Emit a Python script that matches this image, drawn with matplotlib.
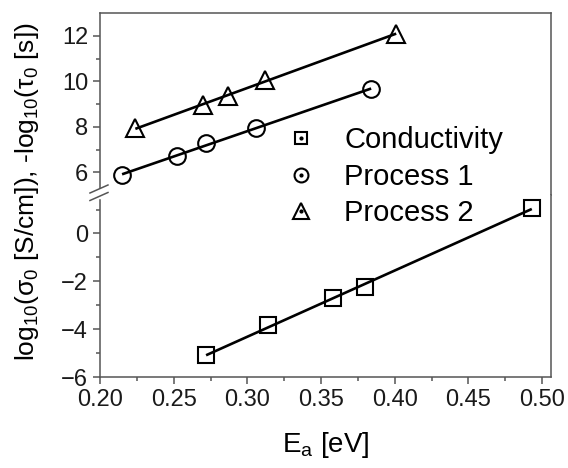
import numpy as np
import matplotlib
matplotlib.use("Agg")
import matplotlib.pyplot as plt
from matplotlib.lines import Line2D
from matplotlib.legend_handler import HandlerTuple

plt.rcParams['font.family'] = ['Liberation Sans', 'DejaVu Sans']
plt.rcParams['mathtext.fontset'] = 'custom'
plt.rcParams['mathtext.rm'] = 'Liberation Sans'
plt.rcParams['mathtext.it'] = 'Liberation Sans'

# activation energy vs. prefactor
cond_ea = [0.272, 0.314, 0.358, 0.380, 0.493]
cond_log = [-5.08, -3.83, -2.71, -2.25, 1.08]

proc1_ea = [0.215, 0.252, 0.272, 0.306, 0.384]
proc1_log = [5.87, 6.70, 7.30, 7.96, 9.65]

proc2_ea = [0.224, 0.270, 0.287, 0.312, 0.401]
proc2_log = [7.95, 8.96, 9.35, 10.05, 12.10]

spine_col = '#555555'
lw_fit = 1.9
mew = 1.5

fig = plt.figure(figsize=(5.68, 4.68), dpi=100)
gs = fig.add_gridspec(2, 1, height_ratios=[1, 1], hspace=0,
                      left=0.176, right=0.970, top=0.972, bottom=0.194)
ax_top = fig.add_subplot(gs[0])
ax_bot = fig.add_subplot(gs[1], sharex=ax_top)


def fit_line(ax, x, y):
    k, b = np.polyfit(x, y, 1)
    xs = np.array([min(x), max(x)])
    ax.plot(xs, k * xs + b, color='black', lw=lw_fit, zorder=2,
            solid_capstyle='butt')


for ax in (ax_top, ax_bot):
    for s in ax.spines.values():
        s.set_color(spine_col)
        s.set_linewidth(1.1)
    ax.tick_params(which='both', direction='out', color=spine_col,
                   labelsize=17, labelcolor='#1a1a1a', width=1.1,
                   right=False, top=False)
    ax.tick_params(which='major', length=5)
    ax.tick_params(which='minor', length=3)

# upper panel: relaxation processes
fit_line(ax_top, proc1_ea, proc1_log)
fit_line(ax_top, proc2_ea, proc2_log)
ax_top.plot(proc1_ea, proc1_log, 'o', ms=12, mfc='none', mec='black',
            mew=mew, zorder=3, clip_on=False)
ax_top.plot(proc2_ea, proc2_log, '^', ms=13, mfc='none', mec='black',
            mew=mew, zorder=3, clip_on=False)
ax_top.set_ylim(5.0, 13.0)
ax_top.set_yticks([6, 8, 10, 12])
ax_top.set_yticks([7, 9, 11], minor=True)
ax_top.spines['bottom'].set_visible(False)
ax_top.tick_params(axis='x', which='both', bottom=False, labelbottom=False)
ax_top.spines['left'].set_bounds(5.3, 13.0)

# lower panel: conductivity
fit_line(ax_bot, cond_ea, cond_log)
ax_bot.plot(cond_ea, cond_log, 's', ms=11, mfc='none', mec='black',
            mew=mew, zorder=3, clip_on=False)
ax_bot.set_ylim(-6.0, 1.6)
ax_bot.set_yticks([-6, -4, -2, 0])
ax_bot.set_yticks([-5, -3, -1, 1], minor=True)
ax_bot.spines['top'].set_visible(False)
ax_bot.spines['left'].set_bounds(-6.0, 1.4)

ax_bot.set_xlim(0.20, 0.506)
ax_bot.set_xticks(np.arange(0.20, 0.501, 0.05))
ax_bot.set_xticks(np.arange(0.225, 0.50, 0.05), minor=True)
ax_bot.xaxis.set_major_formatter(matplotlib.ticker.FormatStrFormatter('%.2f'))

# break marks on the left spine
x0 = 0.176
for yc in (189, 196.5):
    yf = 1 - yc / 468
    fig.add_artist(Line2D([x0 - 10 / 568, x0 + 8 / 568],
                          [yf - 4 / 468, yf + 4 / 468],
                          color=spine_col, lw=1.1))

ax_bot.set_xlabel('E$_\\mathregular{a}$ [eV]', fontsize=20, labelpad=14)
fig.text(0.047, 0.59,
         'log$_\\mathregular{10}$($\\mathregular{\\sigma}_\\mathregular{0}$ [S/cm]), '
         '-log$_\\mathregular{10}$($\\mathregular{\\tau}_\\mathregular{0}$ [s])',
         rotation=90, ha='center', va='center', fontsize=19)

# legend symbols carry a small centre dot
dot = Line2D([], [], marker='o', ms=2, color='black', ls='none')
h_sq = (Line2D([], [], marker='s', ms=9, mfc='none', mec='black', mew=mew, ls='none'), dot)
h_ci = (Line2D([], [], marker='o', ms=10, mfc='none', mec='black', mew=mew, ls='none'), dot)
h_tr = (Line2D([], [], marker='^', ms=11, mfc='none', mec='black', mew=mew, ls='none'), dot)
fig.legend([h_sq, h_ci, h_tr], ['Conductivity', 'Process 1', 'Process 2'],
           handler_map={tuple: HandlerTuple(ndivide=1)},
           loc='upper left', bbox_to_anchor=(286 / 568, 1 - 126 / 468),
           frameon=False, fontsize=21, handlelength=1.0, handletextpad=1.0,
           labelspacing=0.30, borderpad=0, borderaxespad=0)

fig.savefig('out.png', dpi=100)
